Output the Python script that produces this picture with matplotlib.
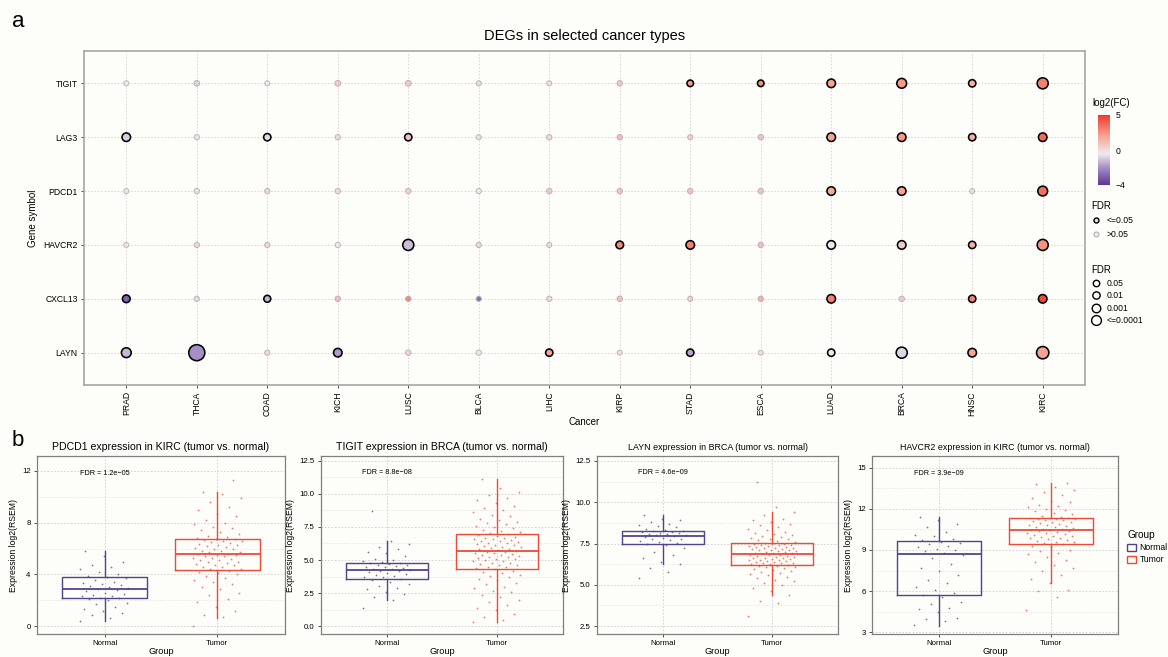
import numpy as np
import matplotlib
matplotlib.use('Agg')
import matplotlib.pyplot as plt
from matplotlib.colors import LinearSegmentedColormap, TwoSlopeNorm
from matplotlib.cm import ScalarMappable
from matplotlib.lines import Line2D
from matplotlib.patches import Patch

plt.rcParams['font.family'] = ['Liberation Sans', 'DejaVu Sans']

# ---- panel a data ----
cancers = ['PRAD', 'THCA', 'COAD', 'KICH', 'LUSC', 'BLCA', 'LIHC',
           'KIRP', 'STAD', 'ESCA', 'LUAD', 'BRCA', 'HNSC', 'KIRC']
genes = ['TIGIT', 'LAG3', 'PDCD1', 'HAVCR2', 'CXCL13', 'LAYN']

log2fc = {
    'TIGIT':  [-0.5, -1.0, -0.3, 1.0, 1.0, 0.3, 0.0, 1.0, 2.2, 2.6, 2.0, 2.3, 1.5, 3.0],
    'LAG3':   [-1.0, -0.6, -0.7, 0.3, 1.0, 0.0, 0.2, 1.5, 0.8, 1.2, 2.0, 2.3, 1.6, 3.6],
    'PDCD1':  [-0.3, -0.6, 0.3, 0.3, 0.5, -0.5, 1.0, 1.2, 1.2, 1.2, 1.8, 2.0, 0.2, 3.5],
    'HAVCR2': [-0.2, 0.4, 0.4, -0.3, -1.2, 0.3, 0.0, 2.8, 3.0, 1.5, -0.5, 0.6, 1.5, 2.5],
    'CXCL13': [-3.0, -0.8, -1.4, 1.5, 3.5, -3.5, 0.2, 1.5, 0.8, 2.0, 3.0, 1.0, 3.0, 4.5],
    'LAYN':   [-1.3, -2.0, 0.2, -1.8, 0.5, -0.5, 2.0, 0.0, -1.6, 0.0, -0.5, -0.8, 2.0, 2.0],
}
fdr = {
    'TIGIT':  [0.6, 0.2, 0.6, 0.15, 0.15, 0.5, 0.7, 0.3, 0.04, 0.04, 1e-3, 1e-4, 0.01, 1e-5],
    'LAG3':   [1e-3, 0.4, 0.01, 0.4, 0.01, 0.6, 0.4, 0.3, 0.5, 0.3, 1e-3, 1e-3, 0.01, 1e-3],
    'PDCD1':  [0.7, 0.4, 0.4, 0.4, 0.4, 0.4, 0.3, 0.3, 0.3, 0.3, 1e-3, 1e-3, 0.7, 1e-4],
    'HAVCR2': [0.7, 0.4, 0.4, 0.4, 1e-5, 0.4, 0.7, 0.005, 1e-3, 0.3, 1e-3, 1e-3, 0.01, 1e-5],
    'CXCL13': [0.005, 0.4, 0.02, 0.3, 0.4, 0.6, 0.4, 0.3, 0.5, 0.3, 1e-3, 0.3, 0.01, 1e-3],
    'LAYN':   [1e-4, 1e-9, 0.4, 1e-3, 0.3, 0.4, 0.01, 0.7, 0.01, 0.7, 0.01, 1e-5, 1e-3, 1e-6],
}

# ---- panel b data ----
titles_b = ['PDCD1 expression in KIRC (tumor vs. normal)',
            'TIGIT expression in BRCA (tumor vs. normal)',
            'LAYN expression in BRCA (tumor vs. normal)',
            'HAVCR2 expression in KIRC (tumor vs. normal)']
fdr_labels = ['FDR = 1.2e\u221205', 'FDR = 8.8e\u221208', 'FDR = 4.6e\u221209', 'FDR = 3.9e\u221209']
groups = ['Normal', 'Tumor']

# box stats: q1, median, q3, whisker low, whisker high
box_normal = [[2.2, 2.9, 3.77, 0.38, 5.8],
              [3.57, 4.28, 4.77, 1.95, 6.42],
              [7.46, 7.98, 8.28, 6.24, 9.24],
              [5.74, 8.72, 9.65, 3.48, 11.4]]
box_tumor = [[4.33, 5.56, 6.75, 0.64, 10.4],
             [4.3, 5.65, 7.0, 0.35, 11.1],
             [6.22, 6.88, 7.52, 4.36, 9.4],
             [9.44, 10.44, 11.3, 6.6, 13.87]]

pts_normal = [
    [0.4, 0.65, 0.9, 1.0, 1.2, 1.35, 1.5, 1.7, 1.8, 2.0, 2.1, 2.15, 2.2, 2.3, 2.35, 2.45, 2.5,
     2.6, 2.7, 2.8, 2.9, 2.95, 3.0, 3.1, 3.2, 3.3, 3.35, 3.45, 3.6, 3.7, 3.8, 3.9, 4.0, 4.2,
     4.4, 4.6, 4.7, 5.0, 5.4, 5.8],
    [1.4, 1.95, 2.2, 2.45, 2.6, 2.8, 2.9, 3.05, 3.2, 3.35, 3.5, 3.6, 3.7, 3.75, 3.8, 3.9, 3.95,
     4.0, 4.1, 4.15, 4.2, 4.25, 4.3, 4.35, 4.4, 4.45, 4.5, 4.55, 4.6, 4.65, 4.7, 4.75, 4.8,
     4.85, 4.9, 5.0, 5.1, 5.3, 5.5, 5.6, 5.8, 6.0, 6.2, 6.4, 8.7],
    [5.4, 5.8, 6.0, 6.25, 6.4, 6.6, 6.8, 7.0, 7.2, 7.4, 7.5, 7.55, 7.6, 7.65, 7.7, 7.75, 7.8,
     7.85, 7.9, 7.95, 8.0, 8.02, 8.05, 8.1, 8.12, 8.15, 8.2, 8.22, 8.25, 8.28, 8.3, 8.4, 8.5,
     8.55, 8.6, 8.7, 8.8, 8.9, 9.0, 9.2],
    [3.5, 3.8, 4.0, 4.05, 4.5, 4.7, 4.8, 5.1, 5.2, 5.6, 5.7, 5.9, 6.1, 6.3, 6.6, 6.8, 7.2, 7.5,
     7.7, 8.0, 8.4, 8.6, 8.75, 8.9, 9.0, 9.1, 9.2, 9.3, 9.4, 9.5, 9.6, 9.7, 9.8, 10.0, 10.1,
     10.3, 10.7, 10.9, 11.2, 11.4],
]
pts_tumor = [
    [0.0, 0.7, 0.9, 1.2, 1.5, 1.9, 2.1, 2.4, 2.6, 2.9, 3.0, 3.3, 3.4, 3.6, 3.7, 3.9, 4.0, 4.1,
     4.2, 4.3, 4.4, 4.45, 4.55, 4.6, 4.7, 4.75, 4.8, 4.9, 4.95, 5.0, 5.1, 5.15, 5.2, 5.25, 5.3,
     5.4, 5.45, 5.5, 5.5, 5.55, 5.6, 5.7, 5.75, 5.8, 5.85, 5.95, 6.0, 6.05, 6.1, 6.2, 6.25,
     6.3, 6.35, 6.4, 6.5, 6.55, 6.6, 6.65, 6.7, 6.75, 6.8, 6.9, 7.0, 7.15, 7.3, 7.4, 7.55,
     7.7, 7.9, 8.0, 8.2, 8.5, 8.7, 9.0, 9.2, 9.6, 9.9, 10.2, 10.4, 11.3],
    [0.35, 0.5, 0.7, 0.9, 1.2, 1.4, 1.6, 1.8, 2.0, 2.2, 2.4, 2.6, 2.7, 2.9, 3.0, 3.2, 3.3, 3.5,
     3.6, 3.7, 3.8, 3.9, 4.0, 4.1, 4.2, 4.35, 4.4, 4.45, 4.5, 4.6, 4.65, 4.7, 4.75, 4.8, 4.9,
     4.95, 5.0, 5.05, 5.1, 5.15, 5.2, 5.25, 5.3, 5.35, 5.4, 5.45, 5.5, 5.55, 5.6, 5.62, 5.7,
     5.75, 5.8, 5.85, 5.9, 5.95, 6.0, 6.05, 6.1, 6.15, 6.2, 6.25, 6.3, 6.35, 6.4, 6.45, 6.5,
     6.55, 6.6, 6.65, 6.7, 6.75, 6.8, 6.9, 6.95, 7.05, 7.1, 7.2, 7.3, 7.4, 7.5, 7.6, 7.7, 7.8,
     7.9, 8.0, 8.1, 8.3, 8.4, 8.6, 8.8, 8.9, 9.1, 9.3, 9.5, 9.7, 9.9, 10.1, 10.4, 11.1],
    [3.1, 3.9, 4.0, 4.4, 4.6, 4.8, 5.0, 5.1, 5.2, 5.3, 5.4, 5.5, 5.6, 5.65, 5.7, 5.8, 5.85,
     5.9, 5.95, 6.0, 6.05, 6.1, 6.12, 6.15, 6.2, 6.25, 6.28, 6.3, 6.33, 6.35, 6.38, 6.4, 6.43,
     6.45, 6.48, 6.5, 6.53, 6.55, 6.58, 6.6, 6.63, 6.65, 6.68, 6.7, 6.73, 6.75, 6.78, 6.8,
     6.83, 6.86, 6.9, 6.93, 6.95, 6.98, 7.0, 7.03, 7.05, 7.08, 7.1, 7.13, 7.15, 7.18, 7.2,
     7.23, 7.25, 7.28, 7.3, 7.33, 7.35, 7.38, 7.4, 7.43, 7.45, 7.48, 7.5, 7.55, 7.6, 7.65,
     7.7, 7.75, 7.8, 7.85, 7.9, 7.95, 8.0, 8.1, 8.15, 8.2, 8.3, 8.4, 8.5, 8.6, 8.7, 8.8, 8.9,
     9.0, 9.2, 9.4, 9.7, 11.2],
    [4.6, 5.6, 6.0, 6.1, 6.6, 6.9, 7.2, 7.5, 7.7, 7.9, 8.1, 8.3, 8.5, 8.7, 8.8, 8.9, 9.0, 9.2,
     9.3, 9.4, 9.5, 9.55, 9.6, 9.65, 9.7, 9.8, 9.85, 9.9, 9.95, 10.0, 10.05, 10.1, 10.15,
     10.2, 10.25, 10.3, 10.35, 10.4, 10.42, 10.44, 10.5, 10.55, 10.6, 10.65, 10.7, 10.75,
     10.8, 10.85, 10.9, 10.95, 11.0, 11.05, 11.1, 11.15, 11.2, 11.22, 11.25, 11.28, 11.3,
     11.3, 11.35, 11.4, 11.5, 11.6, 11.7, 11.8, 11.9, 12.0, 12.1, 12.2, 12.3, 12.5, 12.6,
     12.8, 13.0, 13.2, 13.4, 13.6, 13.8, 13.87],
]

ylims_b = [(-0.6, 13.15), (-0.58, 12.85), (2.02, 12.8), (2.88, 15.84)]
yticks_b = [[0, 4, 8, 12], [0, 2.5, 5, 7.5, 10, 12.5], [2.5, 5, 7.5, 10, 12.5], [3, 6, 9, 12, 15]]
ytick_fmt = ['{:.0f}', '{:.1f}', '{:.1f}', '{:.0f}']
fdr_text_y = [11.8, 11.6, 11.8, 14.6]

# ---- styling ----
W, H = 1168, 657
bg = '#FDFDF9'
purple = '#54428F'
red = '#EE4A38'
cmap = LinearSegmentedColormap.from_list(
    'fc', [(0.0, '#5B3794'), (0.25, '#A58FC4'), (0.444, '#EFE9EF'),
           (0.7, '#F4A595'), (1.0, '#EE3A2C')])
norm = TwoSlopeNorm(vmin=-4, vcenter=0, vmax=5)


def dot_px(f):
    return 4.8 + 1.25 * min(-np.log10(f), 9)


fig = plt.figure(figsize=(W / 100, H / 100), dpi=100, facecolor=bg)

# ================= panel a =================
ax = fig.add_axes([84 / W, 1 - 385 / H, 1001 / W, 334 / H], facecolor=bg)
xs, ys, cs, ss, sig = [], [], [], [], []
for gi, g in enumerate(genes):
    for ci in range(len(cancers)):
        xs.append(ci)
        ys.append(len(genes) - 1 - gi)
        cs.append(log2fc[g][ci])
        ss.append((dot_px(fdr[g][ci]) / 1.389) ** 2)
        sig.append(fdr[g][ci] <= 0.05)
xs, ys, cs, ss, sig = map(np.array, (xs, ys, cs, ss, sig))

ax.scatter(xs[~sig], ys[~sig], c=cs[~sig], s=ss[~sig], cmap=cmap, norm=norm,
           edgecolors='#B0A2AC', linewidths=0.7, alpha=0.78, zorder=3)
ax.scatter(xs[sig], ys[sig], c=cs[sig], s=ss[sig], cmap=cmap, norm=norm,
           edgecolors='black', linewidths=1.15, zorder=4)

ax.set_xlim(-0.6, len(cancers) - 0.4)
ax.set_ylim(-0.6, len(genes) - 0.4)
ax.set_xticks(range(len(cancers)))
ax.set_xticklabels(cancers, rotation=90, fontsize=6.2)
ax.set_yticks(range(len(genes)))
ax.set_yticklabels(genes[::-1], fontsize=6.2)
ax.tick_params(length=2.5, width=0.6, color='#333333', pad=2)
ax.grid(color='#D9D3D3', linestyle=(0, (2, 2)), linewidth=0.6, zorder=0)
ax.set_axisbelow(True)
for sp in ax.spines.values():
    sp.set_color('#A6A6A6')
    sp.set_linewidth(1.2)
ax.set_title('DEGs in selected cancer types', fontsize=10.5, pad=8)
ax.set_xlabel('Cancer', fontsize=7, labelpad=1)
ax.set_ylabel('Gene symbol', fontsize=7, labelpad=4)

fig.text(12 / W, 1 - 27 / H, 'a', fontsize=16)
fig.text(12 / W, 1 - 446 / H, 'b', fontsize=16)

# colour bar
cax = fig.add_axes([1098 / W, 1 - 185 / H, 12 / W, 70 / H])
cb = fig.colorbar(ScalarMappable(norm=norm, cmap=cmap), cax=cax)
cb.outline.set_visible(False)
cb.set_ticks([-4, 0, 5])
cb.set_ticklabels(['\u22124', '0', '5'])
cax.tick_params(labelsize=6.2, length=2, color='white', pad=2)
fig.text(1092 / W, 1 - 106 / H, 'log2(FC)', fontsize=7)

h_sig = [Line2D([], [], marker='o', ls='', ms=3.6, mfc='#E6E0E6', mec='black', mew=1.0),
         Line2D([], [], marker='o', ls='', ms=3.6, mfc='#EEE8EE', mec='#AAAAAA', mew=0.7)]
fig.legend(h_sig, ['<=0.05', '>0.05'], loc='upper left',
           bbox_to_anchor=(1087 / W, 1 - 197 / H), frameon=False, title='FDR',
           fontsize=6.2, title_fontsize=7, alignment='left', handlelength=1.2,
           handletextpad=0.6, labelspacing=0.55, borderpad=0)
size_fdr = [0.05, 0.01, 0.001, 0.0001]
size_lab = ['0.05', '0.01', '0.001', '<=0.0001']
h_size = [Line2D([], [], marker='o', ls='', ms=dot_px(f) / 1.389,
                 mfc='white', mec='black', mew=1.0) for f in size_fdr]
fig.legend(h_size, size_lab, loc='upper left',
           bbox_to_anchor=(1087 / W, 1 - 261 / H), frameon=False, title='FDR',
           fontsize=6.2, title_fontsize=7, alignment='left', handlelength=1.2,
           handletextpad=0.6, labelspacing=0.4, borderpad=0)

# ================= panel b =================
boxes_px = [(37, 248), (321, 242), (597, 241), (872, 246)]
title_fs = [7.6, 7.6, 6.4, 6.4]
golden = 0.6180339887
for k, (left, width) in enumerate(boxes_px):
    bx = fig.add_axes([left / W, 1 - 634 / H, width / W, 178 / H], facecolor=bg)
    stats = []
    for st in (box_normal[k], box_tumor[k]):
        stats.append(dict(q1=st[0], med=st[1], q3=st[2], whislo=st[3], whishi=st[4]))
    for pos, vals, col in ((1, pts_normal[k], purple), (2, pts_tumor[k], red)):
        vals = np.array(vals)
        n = len(vals)
        off = ((np.arange(n) * golden) % 1 - 0.5) * 0.44
        bx.scatter(pos + off, vals, s=1.6, color=col, alpha=0.75, linewidths=0, zorder=4)
    for pos, st, col in ((1, stats[0], purple), (2, stats[1], red)):
        bx.bxp([st], positions=[pos], widths=0.75, showfliers=False, showcaps=False,
               boxprops=dict(color=col, linewidth=1.0),
               whiskerprops=dict(color=col, linewidth=1.0),
               medianprops=dict(color=col, linewidth=1.3), manage_ticks=False, zorder=3)
    bx.set_xlim(0.4, 2.6)
    bx.set_ylim(*ylims_b[k])
    bx.set_xticks([1, 2])
    bx.set_xticklabels(groups, fontsize=5.6)
    yt = yticks_b[k]
    bx.set_yticks(yt)
    bx.set_yticklabels([ytick_fmt[k].format(v) for v in yt], fontsize=5.6)
    step = yt[1] - yt[0]
    minor = [v + step / 2 for v in yt] + [yt[0] - step / 2]
    bx.set_yticks([m for m in minor if ylims_b[k][0] < m < ylims_b[k][1]], minor=True)
    bx.tick_params(axis='y', which='minor', length=0)
    bx.tick_params(which='major', length=2.5, width=0.6, color='#333333', pad=2)
    bx.grid(which='major', color='#CFCFCF', linestyle=(0, (2, 2)), linewidth=0.6)
    bx.grid(which='minor', axis='y', color='#E0E0E0', linestyle=(0, (2, 2)), linewidth=0.5)
    bx.set_axisbelow(True)
    for sp in bx.spines.values():
        sp.set_color('#7F7F7F')
        sp.set_linewidth(0.9)
    bx.set_title(titles_b[k], fontsize=title_fs[k], pad=4)
    bx.set_xlabel('Group', fontsize=6.6, labelpad=0)
    bx.set_ylabel('Expression log2(RSEM)', fontsize=6.2, labelpad=3)
    bx.text(1, fdr_text_y[k], fdr_labels[k], fontsize=5.2, ha='center', va='center')

h_grp = [Patch(facecolor=bg, edgecolor=purple, linewidth=1.0),
         Patch(facecolor=bg, edgecolor=red, linewidth=1.0)]
fig.legend(h_grp, groups, loc='upper left', bbox_to_anchor=(1123 / W, 1 - 526 / H),
           frameon=False, title='Group', fontsize=6.2, title_fontsize=7.2, alignment='left',
           handlelength=1.0, handleheight=0.9, handletextpad=0.4, labelspacing=0.35,
           borderpad=0)

fig.savefig('out.png', dpi=100, facecolor=bg)
